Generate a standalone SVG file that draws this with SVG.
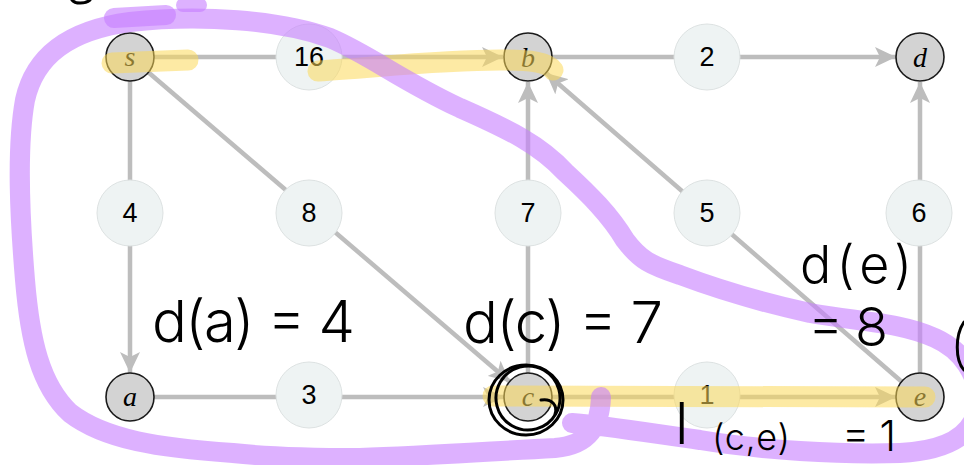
<svg xmlns="http://www.w3.org/2000/svg" width="964" height="465" viewBox="0 0 964 465">
<style>
.edge{stroke:#bdbdbd;stroke-width:4.5;fill:none}
.node circle{fill:#d3d3d3;stroke:#1a1a1a;stroke-width:1.6}
.node text{font-family:"Liberation Serif",serif;font-style:italic;font-size:28px;text-anchor:middle;fill:#000}
.w circle{fill:#eef3f3;stroke:#dde2e2;stroke-width:1}
.w text{font-family:"Liberation Sans",Arial,sans-serif;font-size:27px;text-anchor:middle;fill:#000}
.hl{stroke:#fcd95a;stroke-opacity:0.55;stroke-width:21;stroke-linecap:round;fill:none}
.pu{stroke:#c77dff;stroke-opacity:0.6;stroke-width:20;stroke-linecap:round;stroke-linejoin:round;fill:none}
.hw{font-family:Inter,"Liberation Sans",sans-serif;font-weight:300;fill:#000}
.ink{stroke:#000;stroke-width:3;fill:none;stroke-linecap:round}
</style>
<defs>
<marker id="arr" markerUnits="userSpaceOnUse" markerWidth="22" markerHeight="20" refX="21" refY="10" orient="auto">
<path d="M0,0 L21,10 L0,20 L5,10 z" fill="#bdbdbd"/>
</marker>
</defs>
<g id="connectors">
<line class="edge" x1="154" y1="57" x2="503" y2="57" marker-end="url(#arr)"/>
<line class="edge" x1="552" y1="57" x2="896" y2="57" marker-end="url(#arr)"/>
<line class="edge" x1="130" y1="81" x2="130" y2="373" marker-end="url(#arr)"/>
<line class="edge" x1="148" y1="72" x2="510" y2="382" marker-end="url(#arr)"/>
<line class="edge" x1="528" y1="373" x2="528" y2="82" marker-end="url(#arr)"/>
<line class="edge" x1="902" y1="382" x2="546" y2="73" marker-end="url(#arr)"/>
<line class="edge" x1="920" y1="373" x2="920" y2="82" marker-end="url(#arr)"/>
<line class="edge" x1="154" y1="397" x2="504" y2="397" marker-end="url(#arr)"/>
<line class="edge" x1="552" y1="397" x2="896" y2="397" marker-end="url(#arr)"/>
</g>
<g id="w16" class="w"><circle cx="309" cy="57" r="33"/><text x="309" y="66">16</text></g>
<g id="w2" class="w"><circle cx="707" cy="57" r="33"/><text x="707" y="66">2</text></g>
<g id="w4" class="w"><circle cx="130" cy="213" r="33"/><text x="130" y="222">4</text></g>
<g id="w8" class="w"><circle cx="309" cy="213" r="33"/><text x="309" y="222">8</text></g>
<g id="w7" class="w"><circle cx="528" cy="213" r="33"/><text x="528" y="222">7</text></g>
<g id="w5" class="w"><circle cx="707" cy="213" r="33"/><text x="707" y="222">5</text></g>
<g id="w6" class="w"><circle cx="919" cy="213" r="33"/><text x="919" y="222">6</text></g>
<g id="w3" class="w"><circle cx="309" cy="395" r="33"/><text x="309" y="404">3</text></g>
<g id="w1" class="w"><circle cx="707" cy="395" r="33"/><text x="707" y="404">1</text></g>
<g id="s" class="node"><circle cx="130" cy="57" r="24"/><text x="130" y="66">s</text></g>
<g id="b" class="node"><circle cx="528" cy="57" r="24"/><text x="528" y="67">b</text></g>
<g id="d" class="node"><circle cx="920" cy="57" r="24"/><text x="920" y="67">d</text></g>
<g id="a" class="node"><circle cx="130" cy="397" r="24"/><text x="130" y="406">a</text></g>
<g id="c" class="node"><circle cx="528" cy="397" r="24"/><text x="528" y="406">c</text></g>
<g id="e" class="node"><circle cx="920" cy="397" r="24"/><text x="920" y="406">e</text></g>
<g id="highlights">
<path class="hl" d="M112,63 L188,60"/>
<path class="hl" d="M318,71 C380,67 440,60 500,60 C530,60 548,62 553,70"/>
<path class="hl" d="M493,396 L925,397"/>
</g>
<g id="purple">
<path class="pu" d="M601,397 C600,425 590,445 555,448 C480,452 420,456 360,458 C300,458 260,456 233,453 C160,448 105,440 70,413 C40,385 30,340 25,280 C20,220 16,150 25,100 C35,55 70,30 130,22 C200,14 280,20 330,38 C370,55 400,80 460,108 C510,130 540,145 565,172 C590,195 610,215 625,240 C640,260 650,265 680,275 C720,290 760,302 810,313 C860,322 900,322 935,338 C962,350 978,375 978,400 C978,430 955,450 900,453 C840,455 760,450 700,440 C650,433 600,425 572,423"/>
<path class="pu" d="M114,18 L166,15"/>
<path class="pu" d="M183,5 L200,5" style="stroke-width:14"/>
</g>
<g id="handwriting">
<text class="hw" x="152" y="342" font-size="58" textLength="203">d(a) = 4</text>
<text class="hw" x="463" y="343" font-size="58" textLength="200">d(c) = 7</text>
<text class="hw" x="800" y="283" font-size="52" textLength="112">d(e)</text>
<text class="hw" x="808" y="346" font-size="54" textLength="80">= 8</text>
<text class="hw" x="675" y="444" font-size="58">l</text>
<text class="hw" x="712" y="450" font-size="36" textLength="78">(c,e)</text>
<text class="hw" x="842" y="451" font-size="42" textLength="54">= 1</text>
<ellipse class="ink" cx="526" cy="400" rx="37" ry="35"/>
<ellipse class="ink" cx="528" cy="398" rx="32" ry="32" transform="rotate(-15 528 398)"/>
<path class="ink" d="M541,400 C552,398 558,406 555,414"/>
<path class="ink" d="M964,322 C955,335 955,360 964,370"/>
<path class="ink" d="M72,0 C75,4 85,4 90,0"/>
</g>
</svg>
